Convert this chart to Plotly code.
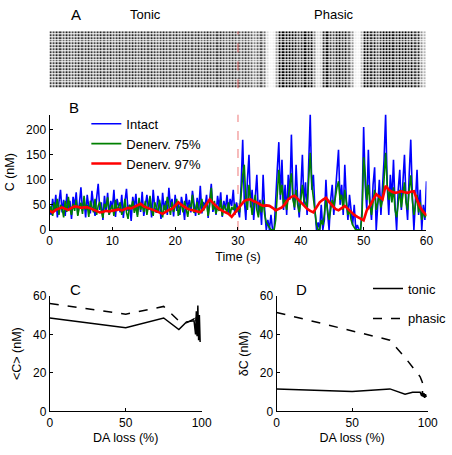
import numpy as np
import plotly.graph_objects as go

# ---------------- data ----------------
# Panel A: raster darkness (spike density) per 0.5 s bin, 0..60 s
raster_density = [
    0.55, 0.5, 0.6, 0.55, 0.5, 0.6, 0.55, 0.5, 0.55, 0.6, 0.5, 0.55, 0.6, 0.55, 0.5, 0.55, 0.6, 0.5, 0.55, 0.6,
    0.5, 0.55, 0.6, 0.55, 0.5, 0.55, 0.6, 0.55, 0.5, 0.6, 0.55, 0.5, 0.6, 0.55, 0.5, 0.55, 0.6, 0.55, 0.5, 0.55,
    0.6, 0.5, 0.55, 0.6, 0.55, 0.5, 0.55, 0.6, 0.5, 0.55, 0.6, 0.55, 0.5, 0.55, 0.6, 0.55, 0.5, 0.55, 0.6, 0.55,
    0.45, 0.5, 0.55, 0.5, 0.45, 0.35, 0.45, 0.5, 0.4, 0.1, 0.03, 0.05, 0.3, 0.75, 0.7, 0.75, 0.7, 0.8, 0.65, 0.55,
    0.6, 0.7, 0.65, 0.8, 0.35, 0.1, 0.15, 0.6, 0.7, 0.55, 0.5, 0.65, 0.75, 0.6, 0.65, 0.45, 0.3, 0.05, 0.03, 0.2,
    0.8, 0.75, 0.6, 0.65, 0.5, 0.6, 0.7, 0.85, 0.7, 0.65, 0.6, 0.7, 0.65, 0.75, 0.6, 0.75, 0.55, 0.6, 0.3, 0.2,
]
n_neurons = 20

# Panel B: concentration traces (nM), sampled every 0.25 s (blue, green) / 0.5 s (red)
intact = [
    45, 30, 62, 38, 70, 25, 55, 80, 35, 60, 28, 72, 40, 58, 22, 66, 48, 75, 30, 52,
    85, 38, 60, 25, 70, 45, 33, 78, 50, 28, 64, 92, 40, 55, 20, 68, 36, 74, 30, 58,
    42, 80, 26, 62, 47, 35, 70, 24, 56, 82, 38, 50, 18, 66, 44, 72, 30, 60, 36, 76,
    28, 54, 70, 40, 62, 25, 80, 45, 34, 68, 52, 22, 74, 40, 58, 30, 84, 46, 62, 27,
    70, 38, 55, 30, 66, 48, 20, 72, 42, 60, 35, 78, 50, 28, 64, 40, 88, 33, 56, 45,
    70, 24, 60, 92, 36, 52, 30, 68, 44, 75, 26, 58, 40, 70, 32, 62, 48, 80, 30, 55,
    40, 25, 90, 180, 60, 20, 100, 150,
    45, 80, 20, 70, 110, 30, 60, 10,
    110, 40, 0, 20, 0, 30, 0, 0,
    50, 120, 175, 60, 140, 40, 90, 30,
    110, 60, 190, 70, 40, 130, 60, 25,
    80, 150, 50, 95, 30, 120, 230, 80,
    110, 40, 0, 15, 0, 50, 0, 20,
    100, 35, 0, 60, 90, 30, 70, 120,
    160, 50, 90, 30, 130, 60, 20, 70,
    40, 10, 50, 0, 10, 0, 0, 40,
    205, 90, 40, 160, 60, 20, 90, 125,
    0, 60, 100, 30, 80, 140, 230, 90,
    30, 110, 60, 140, 50, 0, 80, 120,
    40, 100, 150, 60, 20, 110, 180, 70,
    0, 60, 120, 30, 80, 0, 50, 20,
    97,
]
denerv75 = [
    35, 48, 28, 55, 40, 62, 30, 50, 44, 25, 58, 36, 66, 42, 30, 52, 38, 60, 28, 46,
    54, 32, 68, 40, 50, 26, 58, 44, 35, 62, 30, 48, 56, 38, 24, 52, 45, 65, 30, 42,
    50, 28, 60, 38, 46, 55, 30, 40, 62, 35, 22, 50, 44, 58, 34, 48, 26, 64, 40, 52,
    36, 58, 30, 46, 68, 40, 28, 55, 42, 34, 60, 45, 25, 50, 38, 66, 44, 30, 56, 36,
    48, 62, 28, 44, 52, 35, 58, 40, 26, 50, 46, 70, 34, 42, 56, 30, 48, 62, 38, 45,
    55, 28, 50, 84, 40, 58, 32, 46, 38, 60, 28, 50, 42, 36, 55, 30, 46, 40, 52, 35,
    45, 35, 70, 110, 130, 60, 40, 90,
    60, 30, 50, 70, 40, 25, 55, 35,
    60, 30, 15, 10, 5, 0, 0, 0,
    20, 80, 120, 70, 90, 50, 60, 40,
    70, 90, 113, 60, 45, 80, 50, 35,
    60, 90, 60, 50, 45, 100, 154, 90,
    60, 30, 10, 0, 0, 20, 10, 30,
    60, 40, 20, 40, 60, 45, 70, 85,
    97, 60, 70, 40, 80, 50, 30, 40,
    20, 10, 5, 0, 0, 0, 0, 30,
    145, 110, 60, 90, 50, 30, 60, 80,
    40, 55, 70, 45, 60, 100, 154, 90,
    60, 80, 55, 85, 40, 25, 60, 80,
    45, 70, 95, 55, 40, 80, 109, 60,
    30, 50, 70, 35, 55, 20, 40, 25,
    30,
]
denerv97 = [
    38, 35, 40, 43, 45, 42, 40, 44, 47, 46, 44, 45, 45, 43, 40, 37, 35, 36, 38, 37,
    38, 40, 41, 39, 42, 44, 43, 46, 50, 52, 47, 44, 42, 40, 37, 34, 32, 36, 40, 42,
    48, 55, 50, 46, 42, 40, 38, 36, 35, 42, 52, 61, 54, 47, 42, 38, 35, 32, 26, 34,
    42, 50, 58, 60, 61, 57, 55, 51, 48, 49, 48, 44, 39, 42, 45, 52, 61, 66, 68, 62,
    55, 48, 42, 38, 35, 45, 55, 60, 64, 56, 48, 42, 39, 44, 48, 42, 35, 30, 26, 22,
    19, 39, 48, 60, 71, 66, 61, 88, 80, 76, 74, 75, 77, 75, 74, 76, 77, 60, 45, 36,
    29,
]

# Panels C and D: DA loss (%) vs mean concentration and fluctuation (nM)
da_loss = [0, 50, 75, 85, 90, 95, 96, 96.5, 97, 97.5, 98, 98.5, 99]
mean_tonic = [48.5, 43.5, 48.5, 42.5, 46.5, 47, 40, 52, 39, 55, 37, 50, 36]
mean_phasic = [56, 50.5, 54.5, 47, 46, 48, 45, 49, 46, 49, 44, 47, 45]
fluct_tonic = [11.7, 10.4, 11.7, 9, 10, 10, 8, 10.5, 7.5, 9.5, 7, 9, 7.5]
fluct_phasic = [51.4, 42, 37, 28, 23, 18, 16, 14.5, 13.5, 12.5, 11.5, 11, 10.5]

# ---------------- figure ----------------
W, H = 452, 455
FONT = "Liberation Sans, Arial, Helvetica, sans-serif"


def px_x(p):
    return p / W


def px_y(p):
    return 1 - p / H


fig = go.Figure()

# Panel A raster
t_bins = (np.arange(len(raster_density)) + 0.5) * (60.0 / len(raster_density))
fig.add_trace(go.Heatmap(
    x=t_bins, y=list(range(n_neurons)), z=[raster_density] * n_neurons,
    zmin=0, zmax=0.7, colorscale=[[0, "white"], [1, "black"]], showscale=False,
    xgap=1, ygap=1, xaxis="x", yaxis="y", hoverinfo="skip",
))

# Panel B traces
t_fast = np.linspace(0, 60, len(intact))
t_fast2 = np.linspace(0, 60, len(denerv75))
t_slow = np.linspace(0, 60, len(denerv97))
fig.add_trace(go.Scatter(x=t_fast, y=intact, mode="lines", name="Intact",
                         line=dict(color="#0000ff", width=1.6), xaxis="x2", yaxis="y2", legend="legend"))
fig.add_trace(go.Scatter(x=t_fast2, y=denerv75, mode="lines", name="Denerv. 75%",
                         line=dict(color="#008000", width=1.6), xaxis="x2", yaxis="y2", legend="legend"))
fig.add_trace(go.Scatter(x=t_slow, y=denerv97, mode="lines", name="Denerv. 97%",
                         line=dict(color="#ff0000", width=2.6), xaxis="x2", yaxis="y2", legend="legend"))

# Panel C
fig.add_trace(go.Scatter(x=da_loss, y=mean_tonic, mode="lines", showlegend=False,
                         line=dict(color="black", width=1.5), xaxis="x3", yaxis="y3"))
fig.add_trace(go.Scatter(x=da_loss, y=mean_phasic, mode="lines", showlegend=False,
                         line=dict(color="black", width=1.5, dash="dash"), xaxis="x3", yaxis="y3"))
# Panel D
fig.add_trace(go.Scatter(x=da_loss, y=fluct_tonic, mode="lines", name="tonic", legendgroup="tonic",
                         line=dict(color="black", width=1.5), xaxis="x4", yaxis="y4", legend="legend2"))
fig.add_trace(go.Scatter(x=da_loss, y=fluct_phasic, mode="lines", name="phasic", legendgroup="phasic",
                         line=dict(color="black", width=1.5, dash="dash"), xaxis="x4", yaxis="y4", legend="legend2"))

axis_common = dict(showline=True, linecolor="black", linewidth=1, ticks="inside", ticklen=3,
                   tickcolor="black", showgrid=False, zeroline=False, mirror=False,
                   tickfont=dict(size=12, color="black", family=FONT))

fig.update_layout(
    width=W, height=H, margin=dict(l=0, r=0, t=0, b=0),
    paper_bgcolor="white", plot_bgcolor="white",
    font=dict(family=FONT, size=12, color="black"),
    xaxis=dict(domain=[px_x(48), px_x(437)], range=[0, 60], visible=False, anchor="y"),
    yaxis=dict(domain=[px_y(84), px_y(25)], range=[-0.5, n_neurons - 0.5], visible=False, anchor="x"),
    xaxis2=dict(domain=[px_x(48), px_x(437)], range=[0, 60], anchor="y2",
                tickvals=[0, 10, 20, 30, 40, 50, 60],
                title=dict(text="Time (s)", standoff=4, font=dict(size=12.5)), **axis_common),
    yaxis2=dict(domain=[px_y(230), px_y(111)], range=[0, 230], anchor="x2",
                tickvals=[0, 50, 100, 150, 200],
                title=dict(text="C (nM)", standoff=8, font=dict(size=12.5)), **axis_common),
    xaxis3=dict(domain=[px_x(48.3), px_x(205)], range=[0, 100], anchor="y3",
                tickvals=[0, 50, 100],
                title=dict(text="DA loss (%)", standoff=4, font=dict(size=12.5)), **axis_common),
    yaxis3=dict(domain=[px_y(417.3), px_y(298)], range=[0, 60], anchor="x3",
                tickvals=[0, 20, 40, 60],
                title=dict(text="<C> (nM)", standoff=8, font=dict(size=12.5)), **axis_common),
    xaxis4=dict(domain=[px_x(282.3), px_x(438.3)], range=[0, 100], anchor="y4",
                tickvals=[0, 50, 100],
                title=dict(text="DA loss (%)", standoff=4, font=dict(size=12.5)), **axis_common),
    yaxis4=dict(domain=[px_y(417.3), px_y(298)], range=[0, 60], anchor="x4",
                tickvals=[0, 20, 40, 60],
                title=dict(text="δC (nM)", standoff=8, font=dict(size=12.5)), **axis_common),
    legend=dict(x=px_x(86), y=px_y(105), xanchor="left", yanchor="top",
                bgcolor="rgba(0,0,0,0)", borderwidth=0, font=dict(size=13),
                tracegroupgap=0, itemwidth=30),
    legend2=dict(x=px_x(377), y=px_y(275), xanchor="left", yanchor="top",
                 bgcolor="rgba(0,0,0,0)", borderwidth=0, font=dict(size=13),
                 traceorder="grouped", tracegroupgap=10, itemwidth=30),
    showlegend=True,
)

# red dashed onset line in A and B
fig.add_shape(type="line", xref="x", yref="y", x0=30, x1=30, y0=-0.5, y1=n_neurons - 0.5,
              line=dict(color="rgba(220,60,60,0.8)", width=1, dash="dash"), layer="above")
fig.add_shape(type="line", xref="x2", yref="y2", x0=30, x1=30, y0=0, y1=230,
              line=dict(color="rgba(240,130,130,0.9)", width=1.2, dash="dash"), layer="below")

labels = [("A", 75, 8, 15), ("Tonic", 147, 8, 13), ("Phasic", 342, 8, 13),
          ("B", 73, 104, 15), ("C", 75, 291, 15), ("D", 308, 291, 15)]
for txt, x, y, s in labels:
    fig.add_annotation(text=txt, x=px_x(x), y=px_y(y), xref="paper", yref="paper",
                       showarrow=False, xanchor="center", yanchor="middle",
                       font=dict(size=s, color="black", family=FONT))

fig.write_html("out.html", config={"displayModeBar": False},
               post_script="document.body.style.margin='0';document.body.style.overflow='hidden';")
